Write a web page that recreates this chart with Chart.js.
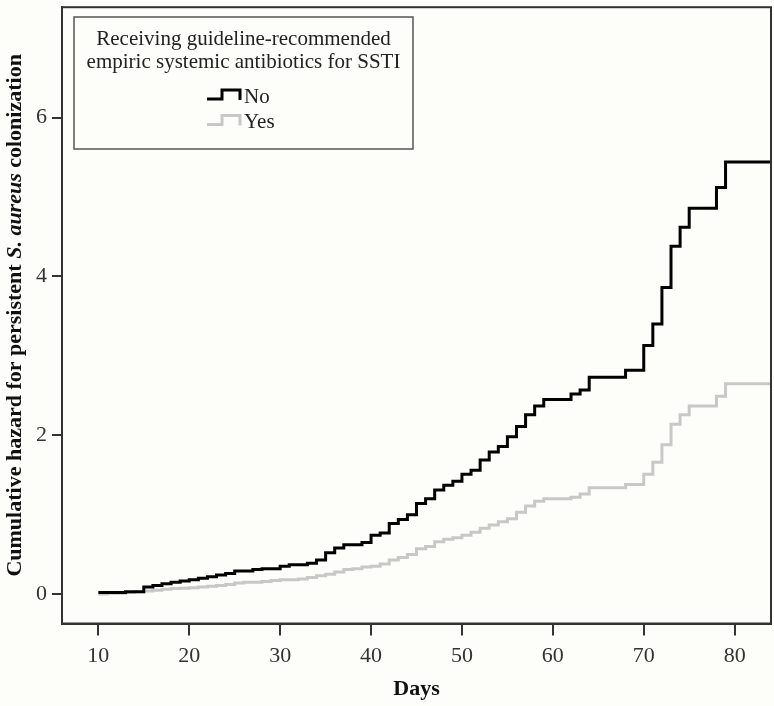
<!DOCTYPE html>
<html>
<head>
<meta charset="utf-8">
<script src="https://cdn.jsdelivr.net/npm/chart.js@4"></script>
<style>
  html, body { margin: 0; padding: 0; background: #fdfdf9; }
  #wrap { width: 774px; height: 706px; position: relative; }
</style>
</head>
<body>
<div id="wrap"><canvas id="myChart"></canvas></div>
<script>
// cumulative hazard
const noDays = [10,13,15,16,17,18,19,20,21,22,23,24,25,27,28,30,31,33,34,35,36,37,39,40,41,42,43,44,45,46,47,48,49,50,51,52,53,54,55,56,57,58,59,62,63,64,68,70,71,72,73,74,75,78,79,84];
const noHazard = [0.02,0.03,0.09,0.11,0.13,0.15,0.165,0.18,0.20,0.22,0.24,0.26,0.29,0.31,0.32,0.35,0.37,0.39,0.43,0.52,0.58,0.62,0.65,0.74,0.77,0.89,0.94,1.00,1.14,1.20,1.31,1.37,1.42,1.51,1.56,1.69,1.79,1.86,1.98,2.11,2.26,2.37,2.45,2.52,2.57,2.73,2.82,3.13,3.40,3.86,4.38,4.62,4.86,5.12,5.44,5.44];

const yesDays = [10,11,13,14,15,16,17,18,19,20,21,22,23,24,25,26,28,29,30,32,33,34,35,36,37,38,39,40,41,42,43,44,45,46,47,48,49,50,51,52,53,54,55,56,57,58,59,62,63,64,68,70,71,72,73,74,75,78,79,84];
const yesHazard = [0.00,0.01,0.02,0.03,0.04,0.05,0.06,0.07,0.075,0.08,0.09,0.10,0.11,0.12,0.14,0.15,0.16,0.17,0.18,0.19,0.21,0.23,0.25,0.28,0.31,0.32,0.34,0.35,0.38,0.43,0.46,0.50,0.57,0.60,0.66,0.69,0.71,0.74,0.78,0.83,0.87,0.91,0.95,1.03,1.11,1.17,1.20,1.22,1.26,1.34,1.38,1.51,1.66,1.88,2.14,2.26,2.37,2.49,2.65,2.65];

const xTicks = [10,20,30,40,50,60,70,80];
const yTicks = [0,2,4,6];
const groupLabels = ['No', 'Yes'];
const legendTitle = ['Receiving guideline-recommended', 'empiric systemic antibiotics for SSTI'];

const SERIF = "'Liberation Serif', 'Times New Roman', serif";

const pts = (xs, ys) => xs.map((x, i) => ({ x: x, y: ys[i] }));

// frame, y title with italic species name, legend box
const extras = {
  id: 'extras',
  afterDraw(chart) {
    const ctx = chart.ctx;
    const a = chart.chartArea;
    ctx.save();
    ctx.strokeStyle = '#333';
    ctx.lineWidth = 2;
    ctx.strokeRect(a.left, a.top, a.right - a.left, a.bottom - a.top);

    // y axis title
    const parts = [
      ['bold', 'Cumulative hazard for persistent '],
      ['italic bold', 'S. aureus'],
      ['bold', ' colonization']
    ];
    const size = 22;
    let total = 0;
    parts.forEach(p => { ctx.font = p[0] + ' ' + size + 'px ' + SERIF; total += ctx.measureText(p[1]).width; });
    ctx.translate(15, (a.top + a.bottom) / 2);
    ctx.rotate(-Math.PI / 2);
    ctx.fillStyle = '#111';
    ctx.textBaseline = 'middle';
    ctx.textAlign = 'left';
    let px = -total / 2;
    parts.forEach(p => {
      ctx.font = p[0] + ' ' + size + 'px ' + SERIF;
      ctx.fillText(p[1], px, 0);
      px += ctx.measureText(p[1]).width;
    });
    ctx.restore();

    // legend
    ctx.save();
    const bx = 74, by = 17, bw = 339, bh = 132;
    ctx.fillStyle = '#fdfdf9';
    ctx.fillRect(bx, by, bw, bh);
    ctx.strokeStyle = '#555';
    ctx.lineWidth = 1.5;
    ctx.strokeRect(bx, by, bw, bh);
    ctx.fillStyle = '#222';
    ctx.font = '21px ' + SERIF;
    ctx.textAlign = 'center';
    ctx.textBaseline = 'middle';
    legendTitle.forEach((t, i) => ctx.fillText(t, bx + bw / 2, 39 + i * 23));
    chart.data.datasets.forEach((ds, i) => {
      const cy = 97 + i * 25.5;
      ctx.strokeStyle = ds.borderColor;
      ctx.lineWidth = 3;
      ctx.beginPath();
      ctx.moveTo(207, cy + 2);
      ctx.lineTo(222, cy + 2);
      ctx.lineTo(222, cy - 7);
      ctx.lineTo(240, cy - 7);
      ctx.lineTo(240, cy + 3);
      ctx.stroke();
      ctx.fillStyle = '#222';
      ctx.textAlign = 'left';
      ctx.fillText(ds.label, 244, cy);
    });
    ctx.restore();
  }
};

new Chart(document.getElementById('myChart'), {
  type: 'line',
  data: {
    datasets: [{
      label: groupLabels[0],
      data: pts(noDays, noHazard),
      borderColor: '#000000',
      borderWidth: 3,
      stepped: true,
      pointRadius: 0,
      fill: false
    }, {
      label: groupLabels[1],
      data: pts(yesDays, yesHazard),
      borderColor: '#c8c8c6',
      borderWidth: 3,
      stepped: true,
      pointRadius: 0,
      fill: false
    }]
  },
  options: {
    responsive: true,
    maintainAspectRatio: false,
    animation: false,
    layout: { padding: { left: 0, top: 2.5, right: 3, bottom: 0 } },
    plugins: { legend: { display: false }, tooltip: { enabled: false } },
    scales: {
      x: {
        type: 'linear',
        min: 6,
        max: 84,
        afterBuildTicks: s => { s.ticks = xTicks.map(v => ({ value: v })); },
        afterFit: s => { s.height = 82.5; },
        grid: { drawOnChartArea: false, drawTicks: true, tickLength: 12, color: '#333', lineWidth: 2 },
        border: { display: true, color: '#333', width: 2 },
        ticks: { color: '#333', padding: 8, font: { family: SERIF, size: 22 } },
        title: { display: true, text: 'Days', color: '#111', padding: { top: 0, bottom: 3 }, font: { family: SERIF, size: 22, weight: 'bold' } }
      },
      y: {
        min: -0.37,
        max: 7.39,
        afterBuildTicks: s => { s.ticks = yTicks.map(v => ({ value: v })); },
        afterFit: s => { s.width = 62; },
        grid: { drawOnChartArea: false, drawTicks: true, tickLength: 10, color: '#333', lineWidth: 2 },
        border: { display: true, color: '#333', width: 2 },
        ticks: { color: '#333', padding: 5, font: { family: SERIF, size: 22, lineHeight: 0.2 } }
      }
    }
  },
  plugins: [extras]
});
</script>
</body>
</html>
